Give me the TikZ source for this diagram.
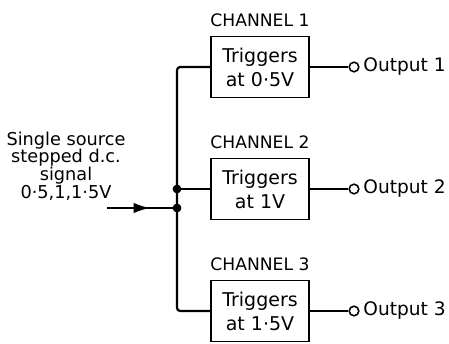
\documentclass[tikz,border=0pt]{standalone}
\usepackage{fontspec}
\setmainfont{DejaVu Sans}
\usepackage{tikz}
\usetikzlibrary{positioning, arrows.meta, decorations.markings}

\begin{document}
\begin{tikzpicture}[
    box/.style={draw, line width=1.2pt, minimum width=2.45cm, minimum height=1.525cm, align=center, font=\fontsize{13.5}{17}\selectfont},
    title/.style={inner sep=0pt, font=\fontsize{12.2}{12.2}\selectfont},
    dot/.style={circle, fill, inner sep=0pt, minimum size=0.22cm},
    port/.style={circle, draw, line width=1.1pt, fill=white, inner sep=0pt, minimum size=0.24cm},
    wire/.style={line width=1.6pt},
    midarrow/.style={postaction={decorate}, decoration={markings, mark=at position 0.62 with {\arrow{Latex[length=0.42cm, width=0.26cm]}}}}
]
  \useasboundingbox (0,0) rectangle (11.225,8.6);

  % --- INPUT ---
  \node[title, align=center, font=\fontsize{12.6}{12.6}\selectfont] (sig) at (1.65,4.45)
    {Single source\\stepped d.c.\\signal\\0·5,1,1·5V};
  \coordinate (in) at (2.675,3.4);
  \node[dot] (j1) at (4.425,3.875) {};
  \node[dot] (j2) at (4.425,3.4) {};

  % --- CHANNELS ---
  \node[box] (b1) at (6.5,6.925) {Triggers\\at 0·5V};
  \node[box] (b2) at (6.5,3.875) {Triggers\\at 1V};
  \node[box] (b3) at (6.5,0.825) {Triggers\\at 1·5V};
  \node[title, above=0.22cm of b1] (t1) {CHANNEL 1};
  \node[title, above=0.22cm of b2] (t2) {CHANNEL 2};
  \node[title, above=0.22cm of b3] (t3) {CHANNEL 3};

  % --- OUTPUTS ---
  \node[port] (o1) at (8.85,6.925) {};
  \node[port] (o2) at (8.85,3.875) {};
  \node[port] (o3) at (8.85,0.825) {};
  \node[title, font=\fontsize{13.2}{13.2}\selectfont, right=0.09cm of o1] (out1) {Output 1};
  \node[title, font=\fontsize{13.2}{13.2}\selectfont, right=0.09cm of o2] (out2) {Output 2};
  \node[title, font=\fontsize{13.2}{13.2}\selectfont, right=0.09cm of o3] (out3) {Output 3};

  % --- DRAWING EDGES ---
  \draw[wire, midarrow] (in) -- (j2.center);
  \draw[wire, rounded corners=0.08cm] (b1.west) -| (j2.center) |- (b3.west);
  \draw[wire] (j1.center) -- (b2.west);
  \draw[wire] (b1) -- (o1);
  \draw[wire] (b2) -- (o2);
  \draw[wire] (b3) -- (o3);
\end{tikzpicture}
\end{document}
